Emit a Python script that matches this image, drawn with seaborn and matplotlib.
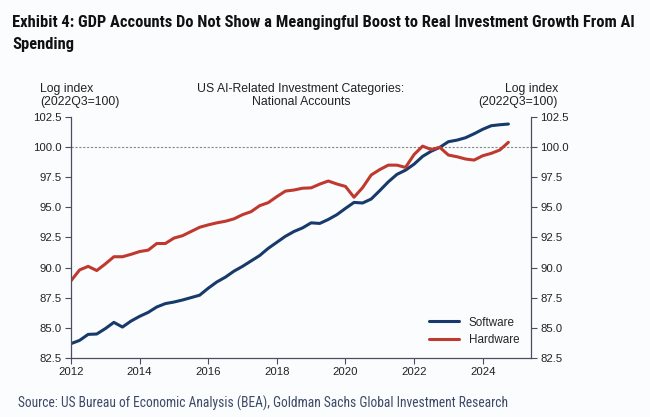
import numpy as np
import pandas as pd
import seaborn as sns
import matplotlib.pyplot as plt

# quarter-end positions, 2011Q4 .. 2024Q3 (plotted at end of quarter)
quarters = 2012.0 + 0.25 * np.arange(52)

software = [83.67, 83.94, 84.44, 84.47, 84.92, 85.44, 85.05, 85.55, 85.94, 86.27,
            86.72, 87.00, 87.13, 87.30, 87.50, 87.70, 88.28, 88.80, 89.20, 89.70,
            90.10, 90.55, 91.00, 91.60, 92.10, 92.60, 93.00, 93.30, 93.72, 93.67,
            94.00, 94.40, 94.92, 95.42, 95.37, 95.70, 96.40, 97.13, 97.75, 98.10,
            98.60, 99.25, 99.68, 100.00, 100.47, 100.60, 100.80, 101.13, 101.50, 101.80,
            101.88, 101.94]

hardware = [88.90, 89.80, 90.10, 89.75, 90.30, 90.90, 90.90, 91.10, 91.33, 91.45,
            92.00, 92.00, 92.45, 92.65, 93.00, 93.35, 93.55, 93.72, 93.85, 94.05,
            94.40, 94.65, 95.15, 95.40, 95.90, 96.36, 96.45, 96.60, 96.63, 96.94,
            97.20, 96.95, 96.75, 95.85, 96.65, 97.70, 98.15, 98.52, 98.52, 98.33,
            99.40, 100.10, 99.82, 100.00, 99.36, 99.22, 99.03, 98.94, 99.30, 99.50,
            99.78, 100.42]

series_names = ['Software', 'Hardware']
colors = ['#173a6b', '#c0392f']
yticks = [82.5, 85.0, 87.5, 90.0, 92.5, 95.0, 97.5, 100.0, 102.5]
xticks = [2012, 2014, 2016, 2018, 2020, 2022, 2024]

df = pd.DataFrame({
    'date': np.concatenate([quarters, quarters]),
    'value': software + hardware,
    'series': ['Software'] * len(software) + ['Hardware'] * len(hardware),
})

sns.set_theme(style='white')
plt.rcParams['font.family'] = ['Liberation Sans', 'DejaVu Sans']
bg = '#fbfcfe'
axis_col = '#4a4d63'

fig = plt.figure(figsize=(6.5, 4.17), dpi=100, facecolor=bg)
ax = fig.add_axes([71 / 650, 1 - 357.7 / 417, (530.7 - 71) / 650, (357.7 - 117.3) / 417])
ax.set_facecolor(bg)

sns.lineplot(data=df, x='date', y='value', hue='series', hue_order=series_names,
             palette=colors, linewidth=2.2, ax=ax)

ax.axhline(100, color='#888888', linestyle=(0, (2, 1.5)), linewidth=0.8, zorder=0)

ax.set_xlim(2012, 2025.4)
ax.set_ylim(82.5, 102.5)
ax.set_xticks(xticks)
ax.set_yticks(yticks)
ax.set_yticklabels([f'{v:.1f}' for v in yticks])
ax.set_xlabel('')
ax.set_ylabel('')
ax.tick_params(axis='both', direction='out', length=4, width=0.8, color=axis_col,
               labelsize=8.2, labelcolor='#222222', pad=3)
ax.tick_params(axis='y', left=True, right=True, labelleft=True, labelright=True)
ax.tick_params(axis='x', bottom=True)
for side in ['left', 'right', 'bottom']:
    ax.spines[side].set_visible(True)
    ax.spines[side].set_color(axis_col)
    ax.spines[side].set_linewidth(0.9)
ax.spines['top'].set_visible(False)

leg = ax.legend(loc='lower right', frameon=False, fontsize=8.4, handlelength=2.6,
                borderaxespad=0.0, labelspacing=0.45, bbox_to_anchor=(0.985, 0.03))

fig.text(40 / 650, 1 - 89 / 417, 'Log index', ha='left', va='center', fontsize=8.8, color='#222222')
fig.text(40 / 650, 1 - 102 / 417, '(2022Q3=100)', ha='left', va='center', fontsize=8.8, color='#222222')
fig.text(558 / 650, 1 - 89 / 417, 'Log index', ha='right', va='center', fontsize=8.8, color='#222222')
fig.text(558 / 650, 1 - 102 / 417, '(2022Q3=100)', ha='right', va='center', fontsize=8.8, color='#222222')
fig.text(301 / 650, 1 - 89 / 417, 'US AI-Related Investment Categories:', ha='center', va='center',
         fontsize=8.8, color='#222222')
fig.text(301 / 650, 1 - 102 / 417, 'National Accounts', ha='center', va='center',
         fontsize=8.8, color='#222222')

title_font = ['Roboto Condensed', 'Liberation Sans Narrow', 'Roboto', 'DejaVu Sans']
t1 = fig.text(12 / 650, 1 - 22 / 417,
              'Exhibit 4: GDP Accounts Do Not Show a Meangingful Boost to Real Investment Growth From AI',
              ha='left', va='center', fontsize=12, fontweight='bold', family=title_font, color='#111111')
t2 = fig.text(12 / 650, 1 - 44 / 417, 'Spending', ha='left', va='center', fontsize=12,
              fontweight='bold', family=title_font, color='#111111')
src = fig.text(18 / 650, 1 - 403 / 417,
               'Source: US Bureau of Economic Analysis (BEA), Goldman Sachs Global Investment Research',
               ha='left', va='center', fontsize=9.5, family=title_font, color='#3d4a66')

# shrink the header/footer to the widths seen in the reference
renderer = fig.canvas.get_renderer()
w1 = t1.get_window_extent(renderer).width
size1 = 12 * 625 / w1
t1.set_fontsize(size1)
t2.set_fontsize(size1)
ws = src.get_window_extent(renderer).width
src.set_fontsize(9.5 * 492 / ws)

fig.savefig('out.png', dpi=100, facecolor=bg)
